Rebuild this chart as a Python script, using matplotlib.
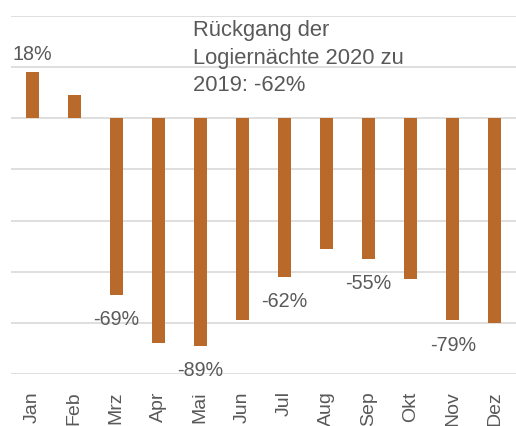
import matplotlib
matplotlib.use("Agg")
import matplotlib.pyplot as plt

months = ["Jan", "Feb", "Mrz", "Apr", "Mai", "Jun", "Jul", "Aug", "Sep", "Okt", "Nov", "Dez"]
values = [18, 9, -69, -88, -89, -79, -62, -51, -55, -63, -79, -80]
labeled = ["Jan", "Mrz", "Mai", "Jul", "Sep", "Nov"]
yticks = [40, 20, 0, -20, -40, -60, -80, -100]
note = "Rückgang der\nLogiernächte 2020 zu\n2019: -62%"

plt.rcParams['font.family'] = ['Liberation Sans', 'DejaVu Sans']
bar_color = "#B9692A"
text_color = "#595959"
grid_color = "#D9D9D9"

fig = plt.figure(figsize=(5.16, 4.26), dpi=100)
ax = fig.add_axes([11/516, 1 - 374/426, 505/516, (374 - 16)/426])

x = list(range(len(months)))
ax.bar(x, values, width=0.31, color=bar_color, zorder=3)

ax.set_xlim(-0.5, len(months) - 0.5)
ax.set_ylim(-100, 40)
ax.set_yticks(yticks)
ax.yaxis.grid(True, color=grid_color, linewidth=1.2, zorder=0)
ax.tick_params(axis='y', left=False, labelleft=False)
ax.tick_params(axis='x', bottom=False, pad=9, labelsize=14, labelcolor=text_color)
ax.set_xticks(x)
ax.set_xticklabels(months, rotation=90, va='top', ha='center')
for s in ax.spines.values():
    s.set_visible(False)

for i, (m, v) in enumerate(zip(months, values)):
    if m in labeled:
        off = 13 if v > 0 else -18
        ax.annotate(f"{v}%", (i, v), xytext=(0, off), textcoords='offset points',
                    ha='center', va='center', fontsize=14.2, color=text_color, zorder=4)

ax.text((193 - 11) / 505, 1 - 4 / 358, note, transform=ax.transAxes,
        ha='left', va='top', fontsize=15.8, color=text_color, linespacing=1.42)

fig.savefig("out.png", dpi=100)
